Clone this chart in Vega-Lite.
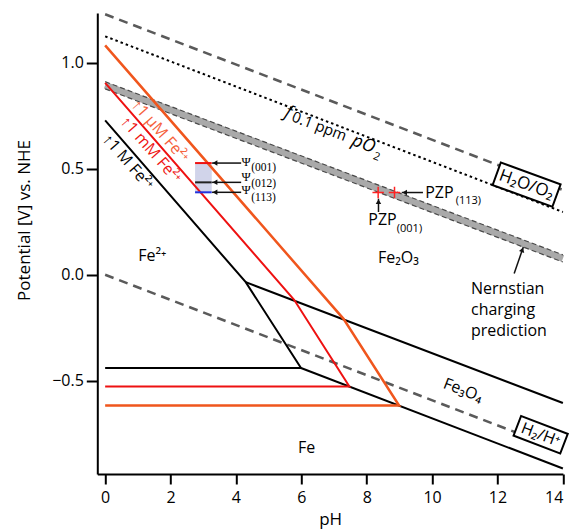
{
  "$schema": "https://vega.github.io/schema/vega-lite/v6.json",
  "width": 465.6,
  "height": 461,
  "autosize": {"type": "none"},
  "padding": {"left": 97.3, "top": 13, "right": 12, "bottom": 56},
  "config": {
    "font": "Open Sans",
    "view": {"stroke": null},
    "axis": {
      "grid": false,
      "domainColor": "black",
      "domainWidth": 2,
      "tickColor": "black",
      "tickWidth": 2,
      "tickSize": 10,
      "labelFont": "Open Sans",
      "labelFontSize": 16,
      "labelColor": "black",
      "titleFont": "Open Sans",
      "titleFontSize": 17,
      "titleFontWeight": "normal",
      "titleColor": "black"
    }
  },
  "datasets": {
    "lines": [
      {"s": "o2", "o": 0, "pH": 0, "E": 1.229}, {"s": "o2", "o": 1, "pH": 14, "E": 0.4},
      {"s": "po2", "o": 0, "pH": 0, "E": 1.125}, {"s": "po2", "o": 1, "pH": 14, "E": 0.296},
      {"s": "h2", "o": 0, "pH": 0, "E": 0.0}, {"s": "h2", "o": 1, "pH": 12.8, "E": -0.758},
      {"s": "band", "o": 0, "pH": 0, "E": 0.894}, {"s": "band", "o": 1, "pH": 14, "E": 0.077},
      {"s": "bandhi", "o": 0, "pH": 0, "E": 0.911}, {"s": "bandhi", "o": 1, "pH": 14, "E": 0.094},
      {"s": "bandlo", "o": 0, "pH": 0, "E": 0.877}, {"s": "bandlo", "o": 1, "pH": 14, "E": 0.06},
      {"s": "k1", "o": 0, "pH": 0, "E": 0.728}, {"s": "k1", "o": 1, "pH": 4.3, "E": -0.035},
      {"s": "k1", "o": 2, "pH": 5.99, "E": -0.44}, {"s": "k1", "o": 3, "pH": 0, "E": -0.44},
      {"s": "k2", "o": 0, "pH": 4.3, "E": -0.035}, {"s": "k2", "o": 1, "pH": 14, "E": -0.605},
      {"s": "k3", "o": 0, "pH": 5.99, "E": -0.44}, {"s": "k3", "o": 1, "pH": 14, "E": -0.914},
      {"s": "r", "o": 0, "pH": 0, "E": 0.905}, {"s": "r", "o": 1, "pH": 5.78, "E": -0.118},
      {"s": "r", "o": 2, "pH": 7.47, "E": -0.527}, {"s": "r", "o": 3, "pH": 0, "E": -0.527},
      {"s": "or", "o": 0, "pH": 0, "E": 1.082}, {"s": "or", "o": 1, "pH": 7.29, "E": -0.208},
      {"s": "or", "o": 2, "pH": 8.99, "E": -0.617}, {"s": "or", "o": 3, "pH": 0, "E": -0.617}
    ],
    "arrows": [
      {"s": "a1", "pH": 3.27, "E": 0.527}, {"s": "a1", "pH": 4.16, "E": 0.527},
      {"s": "a2", "pH": 3.27, "E": 0.436}, {"s": "a2", "pH": 4.16, "E": 0.436},
      {"s": "a3", "pH": 3.27, "E": 0.389}, {"s": "a3", "pH": 4.16, "E": 0.389},
      {"s": "p113", "pH": 9.07, "E": 0.388}, {"s": "p113", "pH": 9.72, "E": 0.388},
      {"s": "p001", "pH": 8.36, "E": 0.359}, {"s": "p001", "pH": 8.36, "E": 0.296},
      {"s": "nern", "pH": 12.79, "E": 0.131}, {"s": "nern", "pH": 12.51, "E": 0.006}
    ],
    "headsLeft": [
      {"pH": 3.36, "E": 0.527}, {"pH": 3.36, "E": 0.436}, {"pH": 3.36, "E": 0.389},
      {"pH": 9.16, "E": 0.388}
    ],
    "headsUp": [{"pH": 8.36, "E": 0.345}],
    "headsTilt": [{"pH": 12.76, "E": 0.118}],
    "psiRect": [{"pH": 2.75, "pH2": 3.26, "E": 0.527, "E2": 0.389}],
    "psiLines": [
      {"facet": "001", "pH": 2.75, "pH2": 3.26, "E": 0.527},
      {"facet": "012", "pH": 2.75, "pH2": 3.26, "E": 0.436},
      {"facet": "113", "pH": 2.75, "pH2": 3.26, "E": 0.389}
    ],
    "crosses": [{"pH": 8.35, "E": 0.388}, {"pH": 8.85, "E": 0.388}],
    "boxO2": [{"pH": 12.89, "E": 0.425, "t": "H₂O/O₂"}],
    "boxH2": [{"pH": 13.32, "E": -0.755, "t": "H₂/H⁺"}],
    "labels": [
      {"pH": 1.44, "E": 0.087, "t": "Fe²⁺"},
      {"pH": 8.97, "E": 0.078, "t": "Fe₂O₃"},
      {"pH": 6.16, "E": -0.818, "t": "Fe"}
    ],
    "leftLabels": [
      {"pH": 11.19, "E": -0.089, "t": "Nernstian"},
      {"pH": 11.19, "E": -0.19, "t": "charging"},
      {"pH": 11.19, "E": -0.29, "t": "prediction"},
      {"pH": 9.79, "E": 0.361, "t": "PZP"},
      {"pH": 8.05, "E": 0.233, "t": "PZP"}
    ],
    "pzpSubs": [
      {"pH": 10.72, "E": 0.347, "t": "(113)"},
      {"pH": 8.92, "E": 0.215, "t": "(001)"}
    ],
    "psiSym": [
      {"pH": 4.31, "E": 0.532, "t": "Ψ"},
      {"pH": 4.31, "E": 0.461, "t": "Ψ"},
      {"pH": 4.31, "E": 0.401, "t": "Ψ"}
    ],
    "psiSubs": [
      {"pH": 4.47, "E": 0.502, "t": "(001)"},
      {"pH": 4.47, "E": 0.426, "t": "(012)"},
      {"pH": 4.47, "E": 0.362, "t": "(113)"}
    ],
    "fe3o4": [{"pH": 10.95, "E": -0.545, "t": "Fe₃O₄"}],
    "fItal": [
      {"pH": 5.6, "E": 0.764, "t": "f"},
      {"pH": 7.9, "E": 0.616, "t": "pO"}
    ],
    "fReg": [{"pH": 6.55, "E": 0.7, "t": "0.1 ppm"}],
    "fSub": [{"pH": 8.3, "E": 0.555, "t": "2"}],
    "concOrange": [{"pH": 1.68, "E": 0.678, "t": "↑1 µM Fe²⁺"}],
    "concRed": [{"pH": 1.4, "E": 0.59, "t": "↑1 mM Fe²⁺"}],
    "concBlack": [{"pH": 0.7, "E": 0.532, "t": "↑1 M Fe²⁺"}]
  },
  "encoding": {
    "x": {
      "field": "pH", "type": "quantitative",
      "scale": {"domain": [-0.24, 14.0], "nice": false, "zero": false},
      "axis": {"title": "pH", "values": [0, 2, 4, 6, 8, 10, 12, 14], "labelPadding": 6, "titleY": 51, "titleBaseline": "alphabetic"}
    },
    "y": {
      "field": "E", "type": "quantitative",
      "scale": {"domain": [-0.94, 1.235], "nice": false, "zero": false},
      "axis": {"title": "Potential [V] vs. NHE", "values": [-0.5, 0, 0.5, 1.0], "format": ".1f", "labelPadding": 3, "tickSize": 11, "titleX": -73, "titleY": 207, "titleAngle": -90, "titleBaseline": "middle"}
    }
  },
  "layer": [
    {"data": {"name": "psiRect"}, "mark": {"type": "rect", "color": "#c9cde6", "opacity": 0.85}, "encoding": {"x2": {"field": "pH2"}, "y2": {"field": "E2"}}},
    {"data": {"name": "lines"}, "transform": [{"filter": {"field": "s", "equal": "band"}}], "mark": {"type": "line", "color": "#a9a9a9", "strokeWidth": 7, "strokeCap": "butt"}, "encoding": {"detail": {"field": "s"}, "order": {"field": "o"}}},
    {"data": {"name": "lines"}, "transform": [{"filter": {"field": "s", "oneOf": ["bandhi", "bandlo"]}}], "mark": {"type": "line", "color": "#4a4a4a", "strokeWidth": 1.2, "strokeDash": [5, 3]}, "encoding": {"detail": {"field": "s"}, "order": {"field": "o"}}},
    {"data": {"name": "lines"}, "transform": [{"filter": {"field": "s", "oneOf": ["o2", "h2"]}}], "mark": {"type": "line", "color": "#5a5a5a", "strokeWidth": 2.5, "strokeDash": [9, 6]}, "encoding": {"detail": {"field": "s"}, "order": {"field": "o"}}},
    {"data": {"name": "lines"}, "transform": [{"filter": {"field": "s", "equal": "po2"}}], "mark": {"type": "line", "color": "black", "strokeWidth": 2, "strokeDash": [2.5, 3]}, "encoding": {"detail": {"field": "s"}, "order": {"field": "o"}}},
    {"data": {"name": "lines"}, "transform": [{"filter": {"field": "s", "oneOf": ["k1", "k2", "k3"]}}], "mark": {"type": "line", "color": "black", "strokeWidth": 2}, "encoding": {"detail": {"field": "s"}, "order": {"field": "o"}}},
    {"data": {"name": "lines"}, "transform": [{"filter": {"field": "s", "equal": "r"}}], "mark": {"type": "line", "color": "#ee1111", "strokeWidth": 2}, "encoding": {"detail": {"field": "s"}, "order": {"field": "o"}}},
    {"data": {"name": "lines"}, "transform": [{"filter": {"field": "s", "equal": "or"}}], "mark": {"type": "line", "color": "#f0561d", "strokeWidth": 2.5}, "encoding": {"detail": {"field": "s"}, "order": {"field": "o"}}},
    {"data": {"name": "psiLines"}, "mark": {"type": "rule", "strokeWidth": 2}, "encoding": {"x2": {"field": "pH2"}, "color": {"field": "facet", "type": "nominal", "scale": {"domain": ["001", "012", "113"], "range": ["#ee1111", "#222222", "#2233dd"]}, "legend": null}}},
    {"data": {"name": "arrows"}, "mark": {"type": "line", "color": "#111111", "strokeWidth": 1.5}, "encoding": {"detail": {"field": "s"}, "order": {"field": "E"}}},
    {"data": {"name": "headsLeft"}, "mark": {"type": "point", "shape": "triangle-left", "filled": true, "color": "#111111", "size": 30, "opacity": 1}},
    {"data": {"name": "headsUp"}, "mark": {"type": "point", "shape": "triangle-up", "filled": true, "color": "#111111", "size": 30, "opacity": 1}},
    {"data": {"name": "headsTilt"}, "mark": {"type": "point", "shape": "triangle-up", "filled": true, "color": "#111111", "size": 30, "opacity": 1, "angle": 19}},
    {"data": {"name": "crosses"}, "mark": {"type": "point", "shape": "M-1,0L1,0M0,-1L0,1", "filled": false, "color": "#ff2222", "strokeWidth": 1.5, "size": 130, "opacity": 1}},
    {"data": {"name": "boxO2"}, "mark": {"type": "point", "shape": "M-1,-0.377L1,-0.377L1,0.377L-1,0.377Z", "filled": true, "fill": "white", "stroke": "black", "strokeWidth": 2, "size": 4045, "angle": 20, "opacity": 1, "fillOpacity": 1}},
    {"data": {"name": "boxH2"}, "mark": {"type": "point", "shape": "M-1,-0.42L1,-0.42L1,0.42L-1,0.42Z", "filled": true, "fill": "white", "stroke": "black", "strokeWidth": 2, "size": 2500, "angle": 21, "opacity": 1, "fillOpacity": 1}},
    {"data": {"name": "boxO2"}, "mark": {"type": "text", "fontSize": 17, "angle": 20, "align": "center", "baseline": "middle", "color": "black"}, "encoding": {"text": {"field": "t"}}},
    {"data": {"name": "boxH2"}, "mark": {"type": "text", "fontSize": 16, "angle": 21, "align": "center", "baseline": "middle", "color": "black"}, "encoding": {"text": {"field": "t"}}},
    {"data": {"name": "labels"}, "mark": {"type": "text", "fontSize": 16, "align": "center", "baseline": "middle", "color": "black"}, "encoding": {"text": {"field": "t"}}},
    {"data": {"name": "leftLabels"}, "mark": {"type": "text", "fontSize": 16, "align": "left", "baseline": "alphabetic", "color": "black"}, "encoding": {"text": {"field": "t"}}},
    {"data": {"name": "pzpSubs"}, "mark": {"type": "text", "fontSize": 11, "align": "left", "baseline": "middle", "color": "black"}, "encoding": {"text": {"field": "t"}}},
    {"data": {"name": "psiSym"}, "mark": {"type": "text", "font": "Liberation Serif", "fontSize": 12.5, "align": "center", "baseline": "middle", "color": "black"}, "encoding": {"text": {"field": "t"}}},
    {"data": {"name": "psiSubs"}, "mark": {"type": "text", "font": "Liberation Serif", "fontSize": 11.5, "align": "left", "baseline": "middle", "color": "black"}, "encoding": {"text": {"field": "t"}}},
    {"data": {"name": "fe3o4"}, "mark": {"type": "text", "fontSize": 16, "angle": 21, "align": "center", "baseline": "middle", "color": "black"}, "encoding": {"text": {"field": "t"}}},
    {"data": {"name": "fItal"}, "mark": {"type": "text", "fontSize": 18, "fontStyle": "italic", "angle": 21, "align": "center", "baseline": "middle", "color": "black"}, "encoding": {"text": {"field": "t"}}},
    {"data": {"name": "fReg"}, "mark": {"type": "text", "fontSize": 15, "angle": 21, "align": "center", "baseline": "middle", "color": "black"}, "encoding": {"text": {"field": "t"}}},
    {"data": {"name": "fSub"}, "mark": {"type": "text", "fontSize": 11, "angle": 21, "align": "center", "baseline": "middle", "color": "black"}, "encoding": {"text": {"field": "t"}}},
    {"data": {"name": "concOrange"}, "mark": {"type": "text", "fontSize": 16, "angle": 48.7, "align": "center", "baseline": "middle", "color": "#f5603a"}, "encoding": {"text": {"field": "t"}}},
    {"data": {"name": "concRed"}, "mark": {"type": "text", "fontSize": 16, "angle": 48.7, "align": "center", "baseline": "middle", "color": "#ee1111"}, "encoding": {"text": {"field": "t"}}},
    {"data": {"name": "concBlack"}, "mark": {"type": "text", "fontSize": 16, "angle": 48.7, "align": "center", "baseline": "middle", "color": "black"}, "encoding": {"text": {"field": "t"}}}
  ]
}
